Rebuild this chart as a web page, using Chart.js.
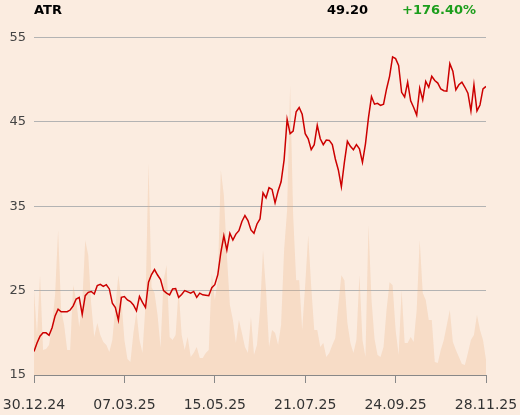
<!DOCTYPE html>
<html>
<head>
<meta charset="utf-8">
<script src="https://cdn.jsdelivr.net/npm/chart.js@4.4.1/dist/chart.umd.min.js"></script>
<style>
  body { margin: 0; background: #fbece0; }
  #wrap { position: relative; width: 520px; height: 415px; }
  .hd { position: absolute; top: 2px; font: bold 13px "DejaVu Sans", sans-serif; line-height: 16px; color: #000; }
</style>
</head>
<body>
<div id="wrap">
  <canvas id="c" width="520" height="415"></canvas>
  <span class="hd" style="left:34px">ATR</span>
  <span class="hd" style="left:327px">49.20</span>
  <span class="hd" style="left:402px;color:#1c9e1c">+176.40%</span>
</div>
<script>
// tick labels on the date axis and the sample index they sit at
const dateTicks = ["30.12.24", "07.03.25", "15.05.25", "21.07.25", "24.09.25", "28.11.25"];
const tickIdx = [0, 30, 60, 90, 120, 150];
const priceTicks = [15, 25, 35, 45, 55];

// closing price
const price = [
  17.8, 18.8, 19.6, 20.0, 20.0, 19.7, 20.6, 22.0, 22.8, 22.5,
  22.5, 22.5, 22.7, 23.2, 24.0, 24.2, 22.2, 24.4, 24.8, 24.9,
  24.6, 25.6, 25.75, 25.5, 25.7, 25.2, 23.5, 23.0, 21.5, 24.2,
  24.3, 23.9, 23.7, 23.3, 22.6, 24.3, 23.6, 23.0, 26.0, 26.9,
  27.5, 26.85, 26.3, 25.0, 24.7, 24.5, 25.2, 25.25, 24.2, 24.55,
  25.0, 24.85, 24.7, 24.9, 24.2, 24.7, 24.5, 24.45, 24.4, 25.35,
  25.7, 26.9, 29.5, 31.5, 29.8, 31.8, 31.0, 31.7, 32.1, 33.2,
  33.9, 33.3, 32.2, 31.8, 32.9, 33.5, 36.6, 36.0, 37.2, 37.0,
  35.4, 36.8, 37.9, 40.5, 45.3, 43.6, 43.9, 46.2, 46.7, 45.9,
  43.6, 43.0, 41.7, 42.3, 44.6, 43.0, 42.3, 42.85, 42.8, 42.3,
  40.6, 39.3, 37.3, 40.2, 42.7, 42.1, 41.7, 42.3, 41.8, 40.2,
  42.4, 45.5, 48.0, 47.1, 47.2, 46.95, 47.1, 48.9, 50.4, 52.7,
  52.5, 51.7, 48.5, 47.95, 49.7, 47.5, 46.7, 45.8, 49.0, 47.6,
  49.8, 49.1, 50.4, 49.9, 49.6, 48.9, 48.7, 48.65, 51.9, 51.0,
  48.8, 49.4, 49.7, 49.1, 48.4, 46.3, 49.4, 46.3, 47.0, 48.9,
  49.2
];

// traded volume (thousands)
const volume = [
  85, 40, 100, 25, 26, 30, 50, 80, 145, 65,
  50, 25, 25, 90, 75, 48, 70, 135, 120, 70,
  38, 52, 40, 33, 30, 23, 35, 68, 100, 75,
  35, 16, 13, 42, 63, 35, 22, 70, 212, 88,
  82, 60, 27, 95, 110, 38, 35, 40, 85, 40,
  25, 38, 18, 22, 28, 17, 17, 22, 25, 102,
  75, 95, 205, 180, 120, 70, 55, 32, 55, 42,
  28, 22, 58, 20, 30, 65, 125, 85, 28, 45,
  42, 30, 50, 125, 165, 290, 160, 95, 95, 45,
  90, 140, 88, 45, 45, 28, 32, 18, 22, 30,
  37, 70, 100, 95, 52, 32, 22, 35, 100, 35,
  18, 150, 75, 36, 20, 18, 28, 65, 93, 90,
  45, 20, 85, 32, 32, 38, 33, 65, 135, 82,
  75, 55, 55, 13, 12, 25, 35, 50, 65, 33,
  25, 18, 11, 10, 22, 35, 40, 60, 45, 35,
  15
];

const font = "'DejaVu Sans', sans-serif";

new Chart(document.getElementById("c"), {
  type: "line",
  data: {
    datasets: [
      {
        data: price.map((v, i) => ({x: i, y: v})),
        yAxisID: "y",
        borderColor: "#cc0000",
        borderWidth: 1.5,
        pointRadius: 0,
        tension: 0,
        order: 0
      },
      {
        data: volume.map((v, i) => ({x: i, y: v})),
        yAxisID: "yv",
        borderWidth: 0,
        pointRadius: 0,
        tension: 0,
        fill: "origin",
        backgroundColor: "rgba(235,170,120,0.25)",
        order: 1
      }
    ]
  },
  options: {
    responsive: false,
    animation: false,
    layout: {autoPadding: false, padding: {top: 37.5, right: 34, bottom: 3, left: 0}},
    plugins: {legend: {display: false}, tooltip: {enabled: false}},
    scales: {
      x: {
        type: "linear",
        min: 0,
        max: price.length - 1,
        afterBuildTicks: axis => { axis.ticks = tickIdx.map(v => ({value: v})); },
        // end labels may hang past the plot, and the axis band is fixed
        afterFit: s => { s.paddingLeft = 0; s.paddingRight = 0; s.height = 37; },
        ticks: {
          callback: v => dateTicks[tickIdx.indexOf(v)],
          autoSkip: false,
          maxRotation: 0,
          padding: 14,
          color: "#333",
          font: {family: font, size: 14}
        },
        grid: {drawOnChartArea: false, tickLength: 8, color: "#888"},
        border: {color: "#888"}
      },
      y: {
        position: "left",
        min: 15,
        max: 55,
        afterBuildTicks: axis => { axis.ticks = priceTicks.map(v => ({value: v})); },
        afterFit: s => { s.width = 34; s.paddingTop = 0; s.paddingBottom = 0; },
        ticks: {padding: 8, color: "#444", font: {family: font, size: 13}},
        grid: {color: "#b3b3b3", drawTicks: false},
        border: {display: false}
      },
      yv: {display: false, min: 0, max: 338}
    }
  }
});
</script>
</body>
</html>
